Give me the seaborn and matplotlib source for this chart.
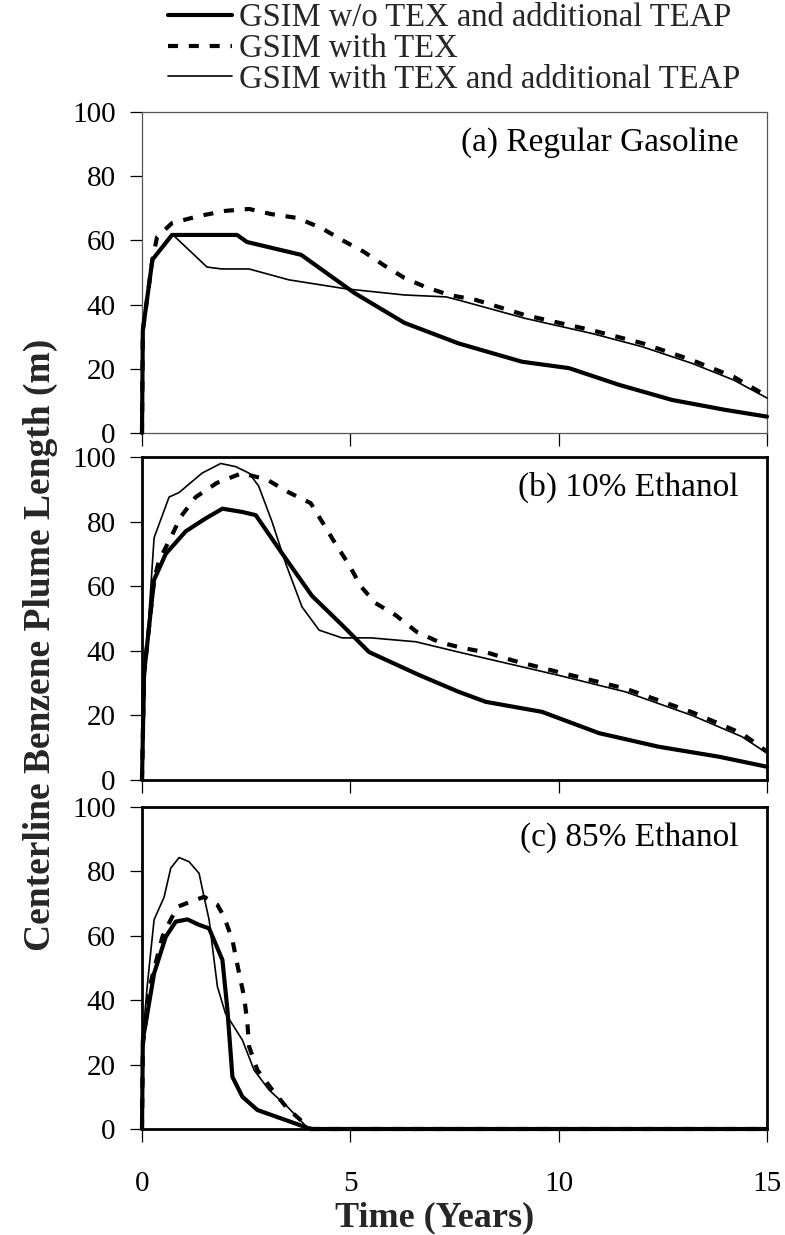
import matplotlib
matplotlib.use("Agg")
import matplotlib.pyplot as plt
import pandas as pd
import seaborn as sns

sns.set_theme(style="ticks")
plt.rcParams['font.family'] = ['Liberation Serif', 'DejaVu Serif']

# ---------------- data ----------------
series_labels = ["GSIM w/o TEX and additional TEAP",
                 "GSIM with TEX",
                 "GSIM with TEX and additional TEAP"]
panel_titles = ["(a) Regular Gasoline", "(b) 10% Ethanol", "(c) 85% Ethanol"]
x_ticks = [0, 5, 10, 15]
y_ticks = [0, 20, 40, 60, 80, 100]
x_label = "Time (Years)"
y_label = "Centerline Benzene Plume Length (m)"

# (a) Regular gasoline
a_wo_t = [0, 0.02, 0.25, 0.72, 2.28, 2.52, 3.82, 5.1, 6.3, 7.6, 9.12, 10.25, 11.45, 12.72, 14.0, 15]
a_wo_y = [0, 32, 54, 61.7, 61.7, 59.5, 55.5, 43.6, 34.3, 27.9, 22.2, 20.2, 15, 10.3, 7.2, 5.1]
a_tex_t = [0, 0.02, 0.25, 0.36, 0.72, 1.37, 2.0, 2.57, 3.1, 3.72, 4.3, 4.8, 5.33, 5.8, 6.3, 6.8,
           7.37, 8.0, 9.2, 10.8, 12.0, 13.2, 14.2, 15]
a_tex_y = [0, 32, 54, 61, 65.4, 67.6, 69.2, 69.8, 68.2, 67, 63.9, 60.1, 56.4, 52.3, 48.3, 45.5,
           43, 41.5, 36.7, 32, 28, 22.7, 17.5, 11.5]
a_teap_t = [0, 0.02, 0.25, 0.72, 1.56, 1.92, 2.57, 3.53, 4.9, 6.3, 7.3, 7.6, 9.2, 10.8, 12.0,
            13.2, 14.2, 15]
a_teap_y = [0, 32, 54, 62, 51.7, 51.1, 51.1, 47.7, 44.9, 43, 42.4, 41.4, 35.7, 31, 26.9,
            21.7, 16.5, 10.9]

# (b) 10% ethanol
b_wo_t = [0, 0.05, 0.29, 0.57, 1.05, 1.53, 1.93, 2.4, 2.73, 3.37, 4.08, 4.8, 5.45, 6.65, 7.6,
          8.25, 9.6, 10.97, 12.4, 13.85, 15]
b_wo_y = [0, 33, 62, 70, 77, 81, 84, 83, 82, 70, 57, 48, 39.6, 32.5, 27.3,
          24.2, 21.1, 14.5, 10.3, 7.2, 4.1]
b_tex_t = [0, 0.05, 0.29, 0.41, 0.69, 0.93, 1.29, 1.8, 2.4, 3.0, 3.53, 4.05, 4.32, 4.65, 4.97,
           5.25, 5.6, 6.09, 6.6, 7.13, 7.65, 8.3, 8.9, 10.0, 11.6, 13.2, 14.4, 15]
b_tex_y = [0, 33, 62, 68, 75, 81.5, 87.6, 92, 95, 93, 89, 85.7, 80, 73, 66.6,
           60, 54.8, 51, 45.8, 42.7, 41, 39.4, 37, 33.4, 28.3, 21, 14.4, 8.8]
b_teap_t = [0, 0.08, 0.29, 0.65, 0.89, 1.44, 1.89, 2.25, 2.57, 2.8, 3.12, 3.45, 3.84, 4.25,
            4.8, 5.5, 6.57, 7.6, 8.8, 10.0, 11.6, 13.2, 14.4, 15]
b_teap_y = [0, 34, 75, 87.6, 89, 95, 98, 97, 95, 91, 80, 67, 53.6, 46.4,
            44, 44, 42.8, 39.6, 36, 32.4, 27.3, 20, 13.4, 8.3]

# (c) 85% ethanol
c_wo_t = [0, 0.02, 0.29, 0.57, 0.81, 1.09, 1.37, 1.61, 1.93, 2.05, 2.17, 2.41, 2.77, 4.05, 15]
c_wo_y = [0, 27.6, 48.3, 59.7, 64.4, 65.1, 63.4, 62.3, 52.5, 37, 16.2, 10, 5.9, 0, 0]
c_tex_t = [0, 0.02, 0.2, 0.49, 0.57, 0.85, 1.17, 1.49, 1.81, 1.97, 2.17, 2.33, 2.45, 2.53,
           2.57, 2.77, 3.13, 3.49, 4.05, 15]
c_tex_y = [0, 26, 45, 59.7, 62, 69, 70.6, 72.1, 69.6, 65.9, 58.7, 48.4, 41.1, 32.8,
           25.6, 18.3, 12.1, 6.4, 0, 0]
c_teap_t = [0, 0.02, 0.13, 0.29, 0.53, 0.69, 0.89, 1.13, 1.37, 1.49, 1.61, 1.69, 1.81, 2.0,
            2.41, 2.69, 3.05, 3.49, 4.0, 15]
c_teap_y = [0, 28.7, 45, 65, 72, 81, 84.3, 83, 79.4, 72, 65, 56.6, 44.2, 36,
            27.6, 18.3, 12.1, 6.9, 0, 0]

panels = [
    [(a_wo_t, a_wo_y), (a_tex_t, a_tex_y), (a_teap_t, a_teap_y)],
    [(b_wo_t, b_wo_y), (b_tex_t, b_tex_y), (b_teap_t, b_teap_y)],
    [(c_wo_t, c_wo_y), (c_tex_t, c_tex_y), (c_teap_t, c_teap_y)],
]

# ---------------- styles ----------------
line_styles = [dict(lw=3.0, ls='-'),
               dict(lw=3.0, ls=(0, (2.4, 2.6))),
               dict(lw=1.2, ls='-')]

W, H = 785, 1235
fig = plt.figure(figsize=(W / 100, H / 100), dpi=100)
fig.patch.set_facecolor('white')

left = 142 / W
width = 625 / W
boxes = [(112, 433), (457, 780), (807, 1129)]
axes = []
for i, (top, bot) in enumerate(boxes):
    ax = fig.add_axes([left, (H - bot) / H, width, (bot - top) / H])
    ax.set_facecolor('white')
    axes.append(ax)

TICK_FS = 21
for i, ax in enumerate(axes):
    for j, (tt, yy) in enumerate(panels[i]):
        df = pd.DataFrame({"t": tt, "L": yy})
        st = line_styles[j]
        sns.lineplot(data=df, x="t", y="L", ax=ax, sort=False, estimator=None,
                     color='black', linewidth=st['lw'], linestyle=st['ls'],
                     label=series_labels[j] if i == 0 else None,
                     legend=False, clip_on=False, zorder=3)
    ax.set_xlim(0, 15)
    ax.set_ylim(0, 100)
    ax.set_xticks(x_ticks)
    ax.set_yticks(y_ticks)
    ax.set_xlabel("")
    ax.set_ylabel("")
    ax.tick_params(axis='both', direction='out', length=9, width=0.9, color='black',
                   labelsize=TICK_FS, labelcolor='black')
    ax.tick_params(axis='y', pad=10)
    if i < 2:
        ax.tick_params(axis='x', labelbottom=False)
    else:
        ax.tick_params(axis='x', pad=21)
    spine_lw = 0.9 if i == 0 else 2.0
    spine_col = '#555555' if i == 0 else 'black'
    for s in ax.spines.values():
        s.set_visible(True)
        s.set_linewidth(spine_lw)
        s.set_color(spine_col)
    ax.text(0.955, 0.905, panel_titles[i], transform=ax.transAxes,
            ha='right', va='center', fontsize=24, color='black')

handles = axes[0].get_lines()[:3]
fig.legend(handles, series_labels, loc='upper left',
           bbox_to_anchor=(168 / W, 1 - 3 / H), frameon=False,
           fontsize=23.5, handlelength=1.95, handletextpad=0.22,
           labelspacing=0.0, borderpad=0, borderaxespad=0)

fig.text(40 / W, (H - 645) / H, y_label, rotation=90, ha='center', va='center',
         fontsize=27, fontweight='bold')
fig.text(435 / W, (H - 1218) / H, x_label, ha='center', va='center',
         fontsize=26, fontweight='bold')

fig.savefig("out.png", dpi=100, facecolor='white')
